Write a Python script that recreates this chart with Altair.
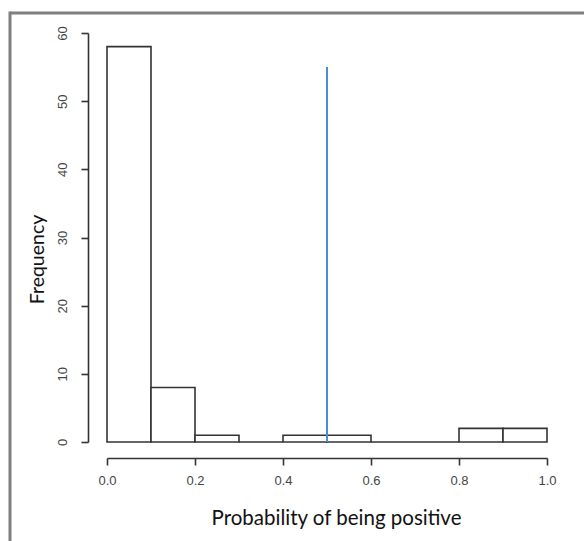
import altair as alt
import pandas as pd

bin_start = [0.0, 0.1, 0.2, 0.3, 0.4, 0.5, 0.6, 0.7, 0.8, 0.9]
bin_end = [0.1, 0.2, 0.3, 0.4, 0.5, 0.6, 0.7, 0.8, 0.9, 1.0]
counts = [58, 8, 1, 0, 1, 1, 0, 0, 2, 2]
x_ticks = [0.0, 0.2, 0.4, 0.6, 0.8, 1.0]
y_ticks = [0, 10, 20, 30, 40, 50, 60]
cutoff_x = [0.5]
cutoff_top = [55]

hist = pd.DataFrame({"start": bin_start, "end": bin_end, "count": counts})
cut = pd.DataFrame({"x": cutoff_x, "y0": [0], "y1": cutoff_top})

ink = "#333333"
xscale = alt.Scale(domain=[0, 1], nice=False, zero=False)
yscale = alt.Scale(domain=[0, 60], nice=False)

bars = alt.Chart(hist).mark_rect(fill="white", stroke=ink, strokeWidth=1.6).encode(
    x=alt.X("start:Q", scale=xscale,
            axis=alt.Axis(values=x_ticks, format=".1f", title="Probability of being positive",
                          offset=16, tickSize=7, tickWidth=1.6, tickColor=ink,
                          domainColor=ink, domainWidth=1.6, grid=False, labelFlush=False,
                          labelOverlap=False,
                          labelFont="Liberation Sans", labelFontSize=13, labelColor="#444444",
                          labelPadding=9, titleFont="Lato", titleFontSize=20.5,
                          titleFontWeight="normal", titleColor="#111111", titlePadding=21,
                          titleX=229)),
    x2="end:Q",
    y=alt.Y("count:Q", scale=yscale,
            axis=alt.Axis(values=y_ticks, title="Frequency", offset=19, tickSize=7,
                          tickWidth=1.6, tickColor=ink, domainColor=ink, domainWidth=1.6,
                          grid=False, labelAngle=270, labelAlign="center", labelFlush=False,
                          labelOverlap=False,
                          labelBaseline="bottom", labelFont="Liberation Sans",
                          labelFontSize=13, labelColor="#444444", labelPadding=12,
                          titleFont="Lato", titleFontSize=19.5, titleFontWeight="normal",
                          titleColor="#111111", titlePadding=9, titleY=226)),
    y2=alt.datum(0),
)

line = alt.Chart(cut).mark_rule(color="#4a8fd6", strokeWidth=2).encode(
    x="x:Q", y="y0:Q", y2="y1:Q"
)

frame_df = pd.DataFrame({"a": [0]})
frame_top = alt.Chart(frame_df).mark_rule(color="#7f7f7f", strokeWidth=3).encode(
    x=alt.value(-97), x2=alt.value(480), y=alt.value(-20)
)
frame_left = alt.Chart(frame_df).mark_rule(color="#7f7f7f", strokeWidth=3).encode(
    x=alt.value(-97), y=alt.value(-21.5), y2=alt.value(510)
)

chart = alt.layer(bars, line, frame_top, frame_left).properties(
    width=440, height=409,
    autosize=alt.AutoSizeParams(type="none"),
    padding={"left": 107, "top": 33, "right": 37, "bottom": 99},
    background="white",
).configure_view(strokeWidth=0)

chart.save("out.html", embed_options={"renderer": "svg", "actions": False})
